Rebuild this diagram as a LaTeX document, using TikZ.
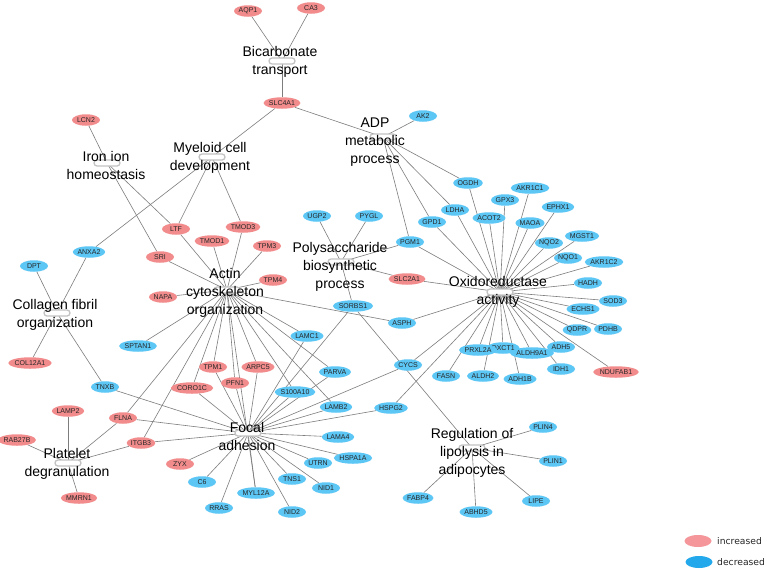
\documentclass[tikz,border=0pt]{standalone}
\usepackage{fontspec}
\setmainfont{Liberation Sans}
\newfontfamily\legfont{DejaVu Sans}
\usetikzlibrary{shapes.geometric}
\pgfdeclarelayer{bg}
\pgfsetlayers{bg,main}
\definecolor{upc}{RGB}{242,140,140}
\definecolor{dnc}{RGB}{92,198,245}
\definecolor{legup}{RGB}{245,150,155}
\definecolor{legdn}{RGB}{35,168,235}
\definecolor{edgec}{RGB}{125,125,125}
\definecolor{hubc}{RGB}{195,195,195}
\tikzset{
 gene/.style={ellipse, minimum width=28pt, minimum height=11.5pt, inner sep=0pt, font=\fontsize{7}{8}\selectfont, text=black!85},
 gup/.style={gene, fill=upc},
 gdn/.style={gene, fill=dnc},
 hub/.style={rectangle, rounded corners=3pt, draw=hubc, line width=1.3pt, fill=white, minimum width=26pt, minimum height=6pt, inner sep=0pt},
 term/.style={font=\fontsize{14}{18}\selectfont, align=center, inner sep=0pt, text=black},
 edge/.style={draw=edgec, line width=0.6pt},
 legtext/.style={anchor=west, inner sep=0pt, font=\legfont\fontsize{9.2}{10}\selectfont, text=black!85},
}
\begin{document}
\begin{tikzpicture}[x=1pt,y=-1pt]
\useasboundingbox (0,0) rectangle (767,570);

% hubs
\node[hub] (hBic) at (282,61) {};
\node[hub] (hMye) at (212,157) {};
\node[hub] (hIron) at (107,163) {};
\node[hub] (hAdp) at (383,137) {};
\node[hub] (hPoly) at (341,262) {};
\node[hub] (hOxi) at (500,292) {};
\node[hub] (hAct) at (227,290) {};
\node[hub] (hCol) at (57,313) {};
\node[hub] (hFoc) at (248,433) {};
\node[hub] (hPlat) at (68,463) {};
\node[hub] (hLip) at (472,448) {};

% increased genes
\foreach \n/\x/\y in {AQP1/248/11, CA3/311/8, SLC4A1/282/103, LCN2/86/120, LTF/176/229,
  TMOD3/243/227, TMOD1/212/241, TPM3/267/246, SRI/160/257, TPM4/273/280, NAPA/163/297,
  SLC2A1/407/279, COL12A1/30/363, TPM1/213/367, ARPC5/258/367, PFN1/235/383, CORO1C/192/388,
  LAMP2/68/411, FLNA/123/418, RAB27B/17/440, ITGB3/141/443, ZYX/180/464, MMRN1/79/498,
  NDUFAB1/616/372}
  \node[gup] (\n) at (\x,\y) {\n};

% decreased genes
\foreach \n/\x/\y in {AK2/423/116, OGDH/468/183, AKR1C1/530/188, GPX3/505/200, EPHX1/558/207,
  LDHA/455/210, ACOT2/489/218, GPD1/432/222, MAOA/530/223, MGST1/582/236, NQO2/549/243,
  PGM1/410/242, NQO1/568/258, AKR1C2/604/262, UGP2/317/216, PYGL/369/216, HADH/588/283,
  SOD3/613/301, ECHS1/583/309, PDHB/608/329, QDPR/577/330, ADH5/561/347, OXCT1/503/348,
  ALDH9A1/532/353, IDH1/561/369, ADH1B/520/379, PRXL2A/478/350, ALDH2/483/376, FASN/446/376,
  CYCS/408/365, ASPH/402/323, SORBS1/353/306, LAMC1/307/336, PARVA/335/372, S100A10/295/392,
  LAMB2/336/407, HSPG2/391/408, LAMA4/338/437, HSPA1A/353/458, UTRN/318/463, TNS1/292/479,
  NID1/326/488, MYL12A/256/493, NID2/292/512, RRAS/219/508, C6/202/482, TNXB/105/387,
  SPTAN1/138/346, ANXA2/89/252, DPT/34/266, PLIN4/543/427, PLIN1/553/461, LIPE/536/501,
  FABP4/418/498, ABHD5/476/512}
  \node[gdn] (\n) at (\x,\y) {\n};

% edges
\begin{pgfonlayer}{bg}
\fill[white] (0,0) rectangle (767,570);
\foreach \g in {AQP1,CA3,SLC4A1} \draw[edge] (hBic.center) -- (\g);
\foreach \g in {SLC4A1,ANXA2,LTF,TMOD3} \draw[edge] (hMye.center) -- (\g);
\foreach \g in {LCN2,SRI,LTF} \draw[edge] (hIron.center) -- (\g);
\foreach \g in {SLC4A1,AK2,OGDH,LDHA,GPD1,PGM1} \draw[edge] (hAdp.center) -- (\g);
\foreach \g in {UGP2,PYGL,PGM1,SLC2A1,SORBS1} \draw[edge] (hPoly.center) -- (\g);
\foreach \g in {PGM1,GPD1,LDHA,OGDH,ACOT2,GPX3,AKR1C1,MAOA,EPHX1,NQO2,MGST1,NQO1,AKR1C2,
  HADH,SOD3,ECHS1,PDHB,QDPR,ADH5,NDUFAB1,IDH1,ALDH9A1,ADH1B,OXCT1,ALDH2,PRXL2A,FASN,
  CYCS,HSPG2,ASPH,SLC2A1} \draw[edge] (hOxi.center) -- (\g);
\foreach \g in {LTF,TMOD1,TMOD3,TPM3,TPM4,SRI,NAPA,SPTAN1,TPM1,PFN1,ARPC5,CORO1C,FLNA,
  ITGB3,MYL12A,S100A10,PARVA,LAMB2,LAMC1,ASPH} \draw[edge] (hAct.center) -- (\g);
\foreach \g in {ANXA2,DPT,COL12A1,TNXB} \draw[edge] (hCol.center) -- (\g);
\foreach \g in {TNXB,FLNA,ITGB3,ZYX,C6,RRAS,MYL12A,NID2,TNS1,NID1,UTRN,HSPA1A,LAMA4,LAMB2,
  HSPG2,CYCS,S100A10,PARVA,LAMC1,SORBS1,CORO1C,TPM1,PFN1,ARPC5} \draw[edge] (hFoc.center) -- (\g);
\foreach \g in {LAMP2,RAB27B,FLNA,ITGB3,MMRN1} \draw[edge] (hPlat.center) -- (\g);
\foreach \g in {SORBS1,PLIN4,PLIN1,LIPE,ABHD5,FABP4} \draw[edge] (hLip.center) -- (\g);
\end{pgfonlayer}

% term labels
\node[term] (tBic) at (280,62) {Bicarbonate\\transport};
\node[term] (tMye) at (210,158) {Myeloid cell\\development};
\node[term] (tIron) at (106,165) {Iron ion\\homeostasis};
\node[term] (tAdp) at (375,142) {ADP\\metabolic\\process};
\node[term] (tPoly) at (340,267) {Polysaccharide\\biosynthetic\\process};
\node[term] (tOxi) at (498,292) {Oxidoreductase\\activity};
\node[term] (tAct) at (225,293) {Actin\\cytoskeleton\\organization};
\node[term] (tCol) at (55,315) {Collagen fibril\\organization};
\node[term] (tFoc) at (247,436) {Focal\\adhesion};
\node[term] (tPlat) at (67,464) {Platelet\\degranulation};
\node[term] (tLip) at (472,453) {Regulation of\\lipolysis in\\adipocytes};

% legend
\node[ellipse, fill=legup, minimum width=27pt, minimum height=12pt, inner sep=0pt] (legI) at (698,541) {};
\node[legtext] (legIt) at (717,541) {increased};
\node[ellipse, fill=legdn, minimum width=27pt, minimum height=12pt, inner sep=0pt] (legD) at (699,562) {};
\node[legtext] (legDt) at (717,562) {decreased};
\end{tikzpicture}
\end{document}
